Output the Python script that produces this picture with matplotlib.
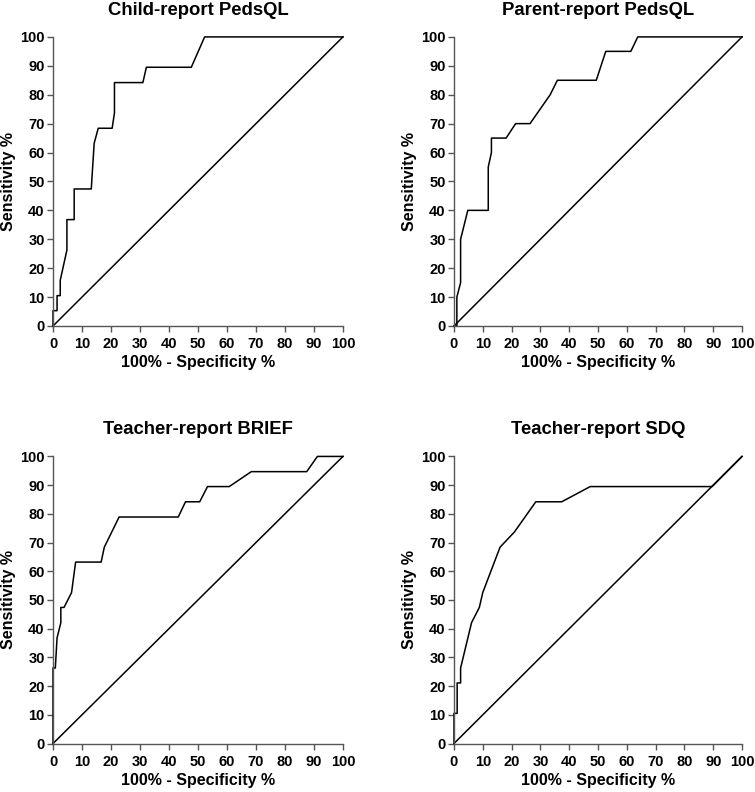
import matplotlib
matplotlib.use("Agg")
import matplotlib.pyplot as plt
import numpy as np

plt.rcParams['font.family'] = ['Liberation Sans', 'DejaVu Sans']
plt.rcParams['font.weight'] = 'bold'

titles = ["Child-report PedsQL", "Parent-report PedsQL",
          "Teacher-report BRIEF", "Teacher-report SDQ"]

# 100% - specificity (x) and sensitivity (y)
child_x = [0, 0, 1.4, 1.4, 2.5, 2.5, 4.8, 4.8, 7.3, 7.3, 13.2, 14.2, 15.6,
           20.4, 21.2, 21.2, 31.0, 32.2, 47.7, 52.3, 100]
child_y = [0, 5.3, 5.3, 10.5, 10.5, 15.8, 26.3, 36.8, 36.8, 47.4, 47.4, 63.2,
           68.4, 68.4, 73.7, 84.2, 84.2, 89.5, 89.5, 100, 100]

parent_x = [0, 1.0, 1.0, 2.3, 2.3, 4.8, 11.9, 11.9, 13.0, 13.0, 18.1, 21.4,
            26.4, 33.4, 35.9, 49.4, 52.7, 61.4, 63.8, 100]
parent_y = [0, 0, 10, 15, 30, 40, 40, 55, 60, 65, 65, 70,
            70, 80, 85, 85, 95, 95, 100, 100]

brief_x = [0, 0, 0.8, 1.4, 2.7, 2.7, 3.8, 6.4, 7.8, 16.6, 17.7, 22.8, 43.2,
           45.7, 50.6, 53.3, 60.8, 68.4, 87.5, 91.2, 100]
brief_y = [0, 26.3, 26.3, 36.8, 42.1, 47.4, 47.4, 52.6, 63.2, 63.2, 68.4,
           78.9, 78.9, 84.2, 84.2, 89.5, 89.5, 94.7, 94.7, 100, 100]

sdq_x = [0, 0, 1.1, 1.1, 2.3, 2.3, 6.1, 8.8, 10.0, 16.0, 21.0, 28.4, 37.4,
         47.3, 89.6, 100]
sdq_y = [0, 10.5, 10.5, 21.1, 21.1, 26.3, 42.1, 47.4, 52.6, 68.4, 73.7, 84.2,
         84.2, 89.5, 89.5, 100]

curves = [(child_x, child_y), (parent_x, parent_y),
          (brief_x, brief_y), (sdq_x, sdq_y)]

ticks = np.arange(0, 101, 10)

fig = plt.figure(figsize=(7.55, 7.92), dpi=100)
positions = [[0.0702, 0.5884, 0.384, 0.365],
             [0.6013, 0.5884, 0.3815, 0.365],
             [0.0702, 0.0612, 0.384, 0.3625],
             [0.6013, 0.0612, 0.3815, 0.3625]]

for pos, title, (cx, cy) in zip(positions, titles, curves):
    ax = fig.add_axes(pos)
    ax.plot([0, 100], [0, 100], color='black', lw=1.1, clip_on=False)
    ax.plot(cx, cy, color='black', lw=1.1, clip_on=False)
    ax.set_xlim(0, 100)
    ax.set_ylim(0, 100)
    ax.set_xticks(ticks)
    ax.set_yticks(ticks)
    for s in ['top', 'right']:
        ax.spines[s].set_visible(False)
    for s in ['left', 'bottom']:
        ax.spines[s].set_color('#555555')
        ax.spines[s].set_linewidth(1.0)
    ax.tick_params(direction='out', length=4, width=1.0, color='#555555',
                   labelsize=10.5)
    ax.tick_params(axis='x', pad=4)
    ax.tick_params(axis='y', pad=2)
    for lab in ax.get_xticklabels() + ax.get_yticklabels():
        lab.set_fontweight('bold')
    ax.set_xlabel("100% - Specificity %", fontsize=11.5, fontweight='bold', labelpad=3)
    ax.set_ylabel("Sensitivity %", fontsize=11.5, fontweight='bold', labelpad=3)
    ax.set_title(title, fontsize=13.3, fontweight='bold', pad=16)

fig.savefig("out.png", dpi=100)
